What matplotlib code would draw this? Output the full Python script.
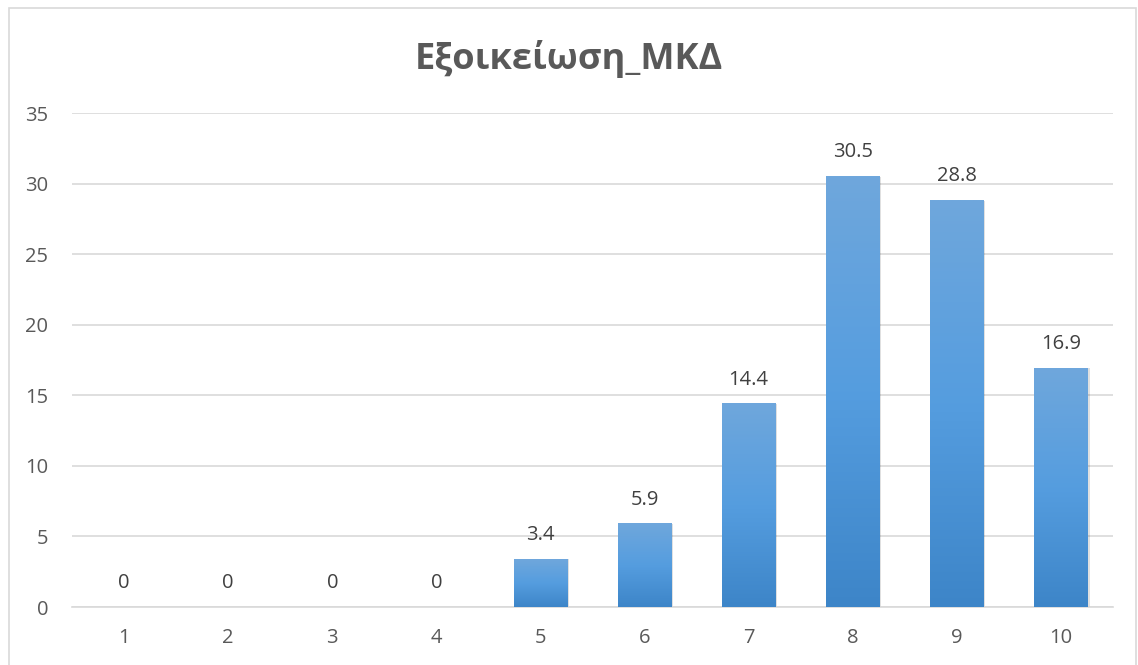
import numpy as np
import matplotlib.pyplot as plt
from matplotlib.patches import Rectangle
from matplotlib.colors import LinearSegmentedColormap

categories = ['1', '2', '3', '4', '5', '6', '7', '8', '9', '10']
values = [0, 0, 0, 0, 3.4, 5.9, 14.4, 30.5, 28.8, 16.9]
title = 'Εξοικείωση_ΜΚΔ'

plt.rcParams['font.family'] = ['Open Sans', 'DejaVu Sans']

fig = plt.figure(figsize=(11.38, 6.65), dpi=100)
ax = fig.add_axes([0.0633, 0.0872, 0.9147, 0.7428])

x = np.arange(len(categories))
bars = ax.bar(x, values, width=0.51, color='none', zorder=3)

# gradient fill, lighter at top
cmap = LinearSegmentedColormap.from_list('g', ['#3d85c8', '#559ddf', '#6fa7dc'])
grad = np.linspace(0, 1, 256).reshape(-1, 1)
for b in bars:
    h = b.get_height()
    if h <= 0:
        continue
    x0 = b.get_x()
    w = b.get_width()
    # soft shadow
    ax.add_patch(Rectangle((x0 + 0.02, 0), w, h, color='#000000', alpha=0.12, zorder=2, lw=0))
    ax.imshow(grad, cmap=cmap, aspect='auto', origin='lower',
              extent=(x0, x0 + w, 0, h), zorder=3)

for xi, v in zip(x, values):
    ax.text(xi, v + 1.0, f'{v:g}', ha='center', va='bottom', fontsize=14.5, color='#404040', zorder=4)

ax.set_xlim(-0.5, len(categories) - 0.5)
ax.set_ylim(0, 35)
ax.set_yticks(np.arange(0, 36, 5))
ax.set_xticks(x)
ax.set_xticklabels(categories)
ax.grid(axis='y', color='#d9d9d9', linewidth=1.2, zorder=0)
ax.set_axisbelow(True)
for s in ['top', 'right', 'left']:
    ax.spines[s].set_visible(False)
ax.spines['bottom'].set_color('#d9d9d9')
ax.spines['bottom'].set_linewidth(1.2)
ax.tick_params(length=0, labelsize=14.5, labelcolor='#595959')
ax.tick_params(axis='y', pad=17)
ax.tick_params(axis='x', pad=15)

fig.text(0.5, 0.912, title, ha='center', va='center', fontsize=26, fontweight='bold', color='#595959')

# chart border
fig.add_artist(Rectangle((0.008, -0.01), 0.99, 0.998, transform=fig.transFigure,
                         fill=False, edgecolor='#d9d9d9', linewidth=1.2))

fig.savefig('out.png', dpi=100)
